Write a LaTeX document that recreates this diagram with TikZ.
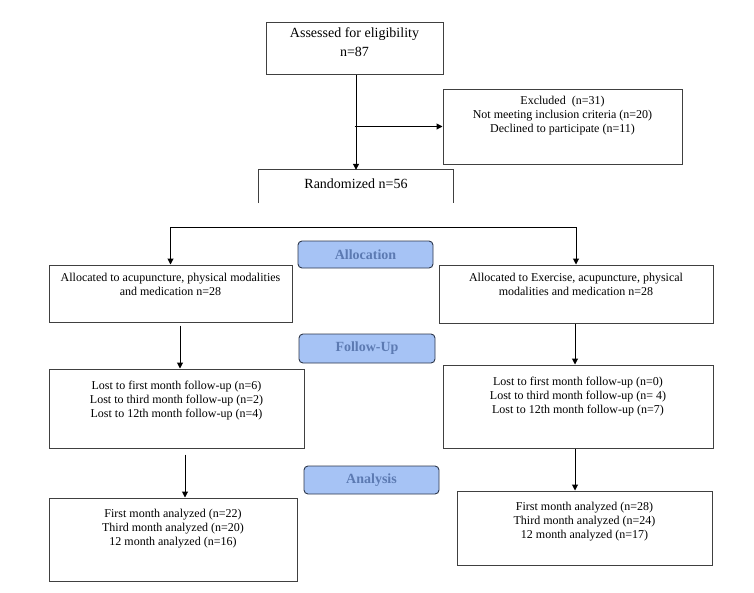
\documentclass[tikz,border=0pt]{standalone}
\usepackage{fontspec}
\setmainfont{Liberation Serif}
\usetikzlibrary{arrows.meta,positioning}

\definecolor{stagefill}{RGB}{166,195,245}
\definecolor{stagetext}{RGB}{92,122,178}
\definecolor{stageline}{RGB}{45,55,75}

\tikzset{
  flowbox/.style={draw=black!75, line width=1pt, inner sep=0pt},
  flowtxt/.style={inner sep=0pt, align=center, font=\fontsize{12}{14}\selectfont},
  bigtxt/.style={inner sep=0pt, align=center, font=\fontsize{14}{19}\selectfont},
  stage/.style={draw=stageline, fill=stagefill, line width=0.9pt, rounded corners=4pt,
    inner sep=0pt, text=stagetext, font=\fontsize{14}{16}\selectfont\bfseries},
  arr/.style={line width=1pt, -{Triangle[length=6pt,width=6pt]}}
}

\begin{document}
\begin{tikzpicture}[x=1pt, y=-1pt]
    \useasboundingbox (0,0) rectangle (754,592);

    % enrolment
    \node[flowbox, minimum width=177pt, minimum height=52pt] (assess) at (354.5,48) {};
    \node[bigtxt, below=6pt of assess.north] (assess-t) {Assessed for eligibility\\n=87};
    \node[flowbox, minimum width=239pt, minimum height=75pt] (excl) at (562.5,126.5) {};
    \node[flowtxt, below=7pt of excl.north] (excl-t) {Excluded\ \ (n=31)\\Not meeting inclusion criteria (n=20)\\Declined to participate (n=11)};
    \node[inner sep=0pt, minimum width=194pt, minimum height=33pt] (rand) at (356,186.5) {};
    \node[bigtxt] (rand-t) at (356,184) {Randomized n=56};
    \draw[draw=black!75, line width=1pt] (rand.south west) -- (rand.north west) -- (rand.north east) -- (rand.south east);

    \draw[arr] (assess.south -| rand.north) -- (rand.north);
    \coordinate (exclsplit) at (assess.south |- excl.west);
    \draw[arr] (exclsplit) -- (excl.west);

    % allocation
    \node[stage, minimum width=135pt, minimum height=27pt] (allocation) at (365.5,254.5) {Allocation};
    \node[flowbox, minimum width=243pt, minimum height=57pt] (alloc1) at (170.5,293.5) {};
    \node[flowtxt, below=8pt of alloc1.north] (alloc1-t) {Allocated to acupuncture, physical modalities\\and medication n=28};
    \node[flowbox, minimum width=274pt, minimum height=58pt] (alloc2) at (576,294) {};
    \node[flowtxt, below=8pt of alloc2.north] (alloc2-t) {Allocated to Exercise, acupuncture, physical\\modalities and medication n=28};

    \coordinate (split) at (375,227);
    \draw[arr] (split) -| (alloc1.north);
    \draw[arr] (split) -| (alloc2.north);

    % follow-up
    \node[stage, minimum width=136pt, minimum height=29pt] (followup) at (367,348.5) {Follow-Up};
    \node[flowbox, minimum width=255pt, minimum height=79pt] (lost1) at (176.5,408.5) {};
    \node[flowtxt, below=12pt of lost1.north] (lost1-t) {Lost to first month follow-up (n=6)\\Lost to third month follow-up (n=2)\\Lost to 12th month follow-up (n=4)};
    \node[flowbox, minimum width=270pt, minimum height=83pt] (lost2) at (578,406.5) {};
    \node[flowtxt, below=12pt of lost2.north] (lost2-t) {Lost to first month follow-up (n=0)\\Lost to third month follow-up (n= 4)\\Lost to 12th month follow-up (n=7)};

    \draw[arr, shorten <=3pt] ([xshift=9.5pt]alloc1.south) -- ([xshift=3.5pt]lost1.north);
    \draw[arr] ([xshift=-1pt]alloc2.south) -- ([xshift=-3pt]lost2.north);

    % analysis
    \node[stage, minimum width=135pt, minimum height=28pt] (analysis) at (371.5,480) {Analysis};
    \node[flowbox, minimum width=248pt, minimum height=83pt] (anl1) at (173,539.5) {};
    \node[flowtxt, below=11pt of anl1.north] (anl1-t) {First month analyzed (n=22)\\Third month analyzed (n=20)\\12 month analyzed (n=16)};
    \node[flowbox, minimum width=255pt, minimum height=74pt] (anl2) at (584.5,528) {};
    \node[flowtxt, below=11pt of anl2.north] (anl2-t) {First month analyzed (n=28)\\Third month analyzed (n=24)\\12 month analyzed (n=17)};

    \draw[arr, shorten <=6pt] ([xshift=8.5pt]lost1.south) -- ([xshift=12pt]anl1.north);
    \draw[arr] ([xshift=-3pt]lost2.south) -- ([xshift=-9.5pt]anl2.north);

\end{tikzpicture}
\end{document}
